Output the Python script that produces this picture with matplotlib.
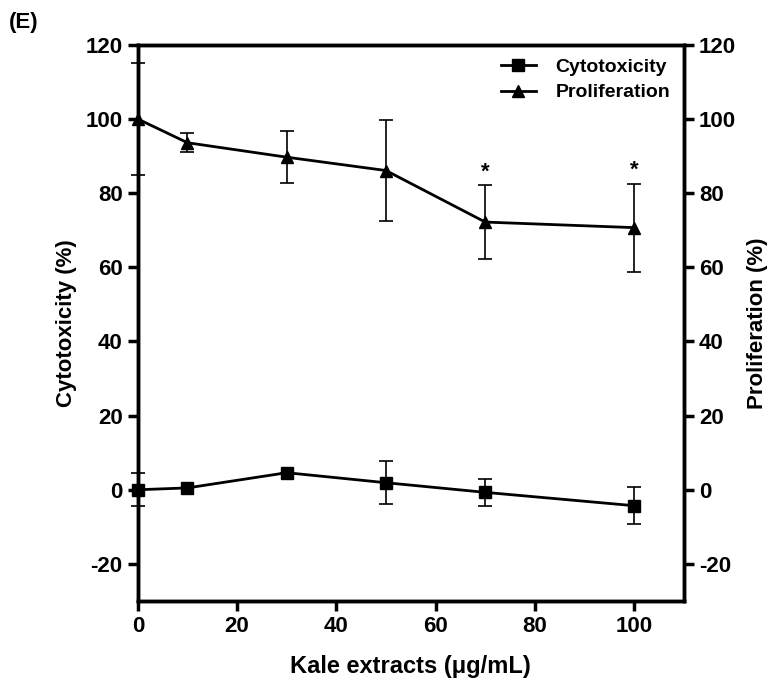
import matplotlib
matplotlib.use('Agg')
import matplotlib.pyplot as plt
from matplotlib.lines import Line2D

plt.rcParams['font.family'] = ['Liberation Sans', 'DejaVu Sans']
plt.rcParams['font.weight'] = 'bold'
plt.rcParams['axes.unicode_minus'] = False

# Kale extract concentrations (ug/mL)
conc = [0, 10, 30, 50, 70, 100]

# Cytotoxicity (%) mean and SD
cyto_mean = [0.0, 0.5, 4.6, 1.9, -0.7, -4.3]
cyto_sd = [4.5, 0.0, 0.0, 5.8, 3.7, 5.0]

# Proliferation (%) mean and SD
prolif_mean = [100.0, 93.6, 89.7, 86.1, 72.2, 70.7]
prolif_sd = [15.0, 2.6, 7.0, 13.5, 9.9, 11.9]

# points marked as significant
sig_conc = [70, 100]

fig = plt.figure(figsize=(7.7, 6.9), dpi=100)
ax = fig.add_axes([0.179, 0.129, 0.709, 0.806])

ax.errorbar(conc, cyto_mean, yerr=cyto_sd, color='black', marker='s', markersize=8,
            linewidth=2, elinewidth=1.2, capsize=5, capthick=1.2,
            clip_on=False, zorder=3)
ax.errorbar(conc, prolif_mean, yerr=prolif_sd, color='black', marker='^', markersize=9,
            linewidth=2, elinewidth=1.2, capsize=5, capthick=1.2,
            clip_on=False, zorder=3)

for c in sig_conc:
    i = conc.index(c)
    ax.text(c, prolif_mean[i] + prolif_sd[i] + 0.8, '*', ha='center', va='bottom',
            fontsize=16, fontweight='bold')

ax.set_xlim(0, 110)
ax.set_ylim(-30, 120)
ax.set_xticks([0, 20, 40, 60, 80, 100])
ax.set_yticks([-20, 0, 20, 40, 60, 80, 100, 120])
ax.set_xlabel('Kale extracts (\u03bcg/mL)', fontsize=17, fontweight='bold', labelpad=13)
ax.set_ylabel('Cytotoxicity (%)', fontsize=16, fontweight='bold', labelpad=6)

for s in ax.spines.values():
    s.set_linewidth(2.5)
ax.tick_params(width=2.5, length=7, labelsize=16, pad=4)

ax2 = ax.twinx()
ax2.set_ylim(-30, 120)
ax2.set_yticks([-20, 0, 20, 40, 60, 80, 100, 120])
ax2.set_ylabel('Proliferation (%)', fontsize=16, fontweight='bold', labelpad=8)
for s in ax2.spines.values():
    s.set_linewidth(2.5)
ax2.tick_params(width=2.5, length=7, labelsize=16, pad=4)

for a in (ax, ax2):
    for lbl in a.get_xticklabels() + a.get_yticklabels():
        lbl.set_fontweight('bold')

handles = [
    Line2D([], [], color='black', marker='s', markersize=8, linewidth=2),
    Line2D([], [], color='black', marker='^', markersize=9, linewidth=2),
]
leg = ax.legend(handles, ['Cytotoxicity', 'Proliferation'], loc='upper right',
                frameon=False, fontsize=14, handlelength=1.8, borderaxespad=0.3,
                labelspacing=0.4, handletextpad=1.0)
for t in leg.get_texts():
    t.set_fontweight('bold')

fig.text(0.012, 0.968, '(E)', fontsize=16, fontweight='bold', ha='left', va='center')

fig.savefig('out.png', dpi=100)
